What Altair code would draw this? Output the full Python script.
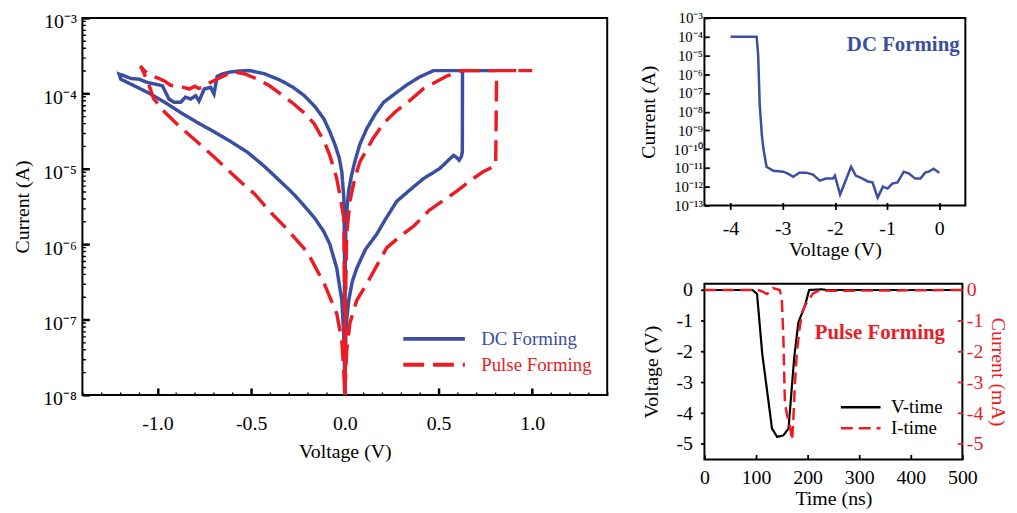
import json
import altair as alt
import pandas as pd

BLUE = "#3a4ea2"
RED = "#ec1c24"
FONT = "Liberation Serif"

# ---------------- main panel: I-V loops ----------------
dc_v = [0.000, 0.003, 0.005, 0.012, 0.021, 0.040, 0.064, 0.110, 0.170, 0.220, 0.277, 0.350, 0.420, 0.505,
        0.560, 0.580, 0.595, 0.610, 0.622, 0.627, 0.628, 0.700, 0.800, 0.700, 0.600, 0.473, 0.400, 0.330,
        0.270, 0.207, 0.160, 0.117, 0.080, 0.053, 0.035, 0.020, 0.007, 0.003, 0.001, 0.000,
        -0.001, -0.002, -0.005, -0.016, -0.030, -0.053, -0.080, -0.112, -0.160, -0.218, -0.280, -0.346,
        -0.430, -0.505, -0.560, -0.610, -0.650, -0.681, -0.690, -0.698, -0.716, -0.750, -0.778, -0.796,
        -0.823, -0.850, -0.876, -0.911, -0.938, -0.956, -0.973, -1.009, -1.053, -1.097, -1.140, -1.186,
        -1.204, -1.195, -1.140, -1.053, -0.960, -0.878, -0.787, -0.698, -0.610, -0.520, -0.430, -0.344,
        -0.280, -0.220, -0.160, -0.113, -0.080, -0.043, -0.016, -0.006, -0.002, 0.000]
dc_i = [1.0e-8, 3.0e-8, 6.6e-8, 1.1e-7, 1.8e-7, 3.2e-7, 4.8e-7, 8.5e-7, 1.35e-6, 2.2e-6, 3.7e-6, 5.3e-6, 7.4e-6, 1.0e-5,
        1.35e-5, 1.5e-5, 1.42e-5, 1.3e-5, 1.45e-5, 1.66e-5, 2.0e-4, 2.0e-4, 2.0e-4, 2.0e-4, 2.0e-4, 2.0e-4, 1.65e-4, 1.29e-4,
        1.0e-4, 7.6e-5, 5.2e-5, 3.4e-5, 2.1e-5, 1.23e-5, 8.0e-6, 5.0e-6, 2.2e-6, 8.0e-7, 1.0e-7, 1.0e-8,
        1.5e-7, 1.2e-6, 4.0e-6, 9.1e-6, 1.4e-5, 2.1e-5, 3.1e-5, 4.6e-5, 6.7e-5, 9.4e-5, 1.22e-4, 1.5e-4,
        1.82e-4, 2.0e-4, 1.98e-4, 1.92e-4, 1.82e-4, 1.68e-4, 1.26e-4, 9.8e-5, 1.2e-4, 1.14e-4, 7.9e-5, 9.3e-5,
        8.4e-5, 8.9e-5, 7.6e-5, 7.6e-5, 8.4e-5, 1.03e-4, 1.26e-4, 1.32e-4, 1.39e-4, 1.54e-4, 1.57e-4, 1.74e-4,
        1.8e-4, 1.54e-4, 1.32e-4, 1.03e-4, 7.6e-5, 5.6e-5, 4.1e-5, 3.1e-5, 2.3e-5, 1.66e-5, 1.08e-5, 6.8e-6,
        4.8e-6, 3.3e-6, 2.2e-6, 1.48e-6, 1.0e-6, 4.8e-7, 1.8e-7, 6.6e-8, 2.5e-8, 1.0e-8]

pulse_v = [0.000, 0.005, 0.010, 0.027, 0.064, 0.133, 0.223, 0.300, 0.370, 0.450, 0.505, 0.596, 0.684, 0.738,
           0.770, 0.805, 0.810, 0.900, 1.000, 0.900, 0.800, 0.700, 0.620, 0.550, 0.505, 0.420, 0.346, 0.270,
           0.207, 0.150, 0.117, 0.080, 0.053, 0.027, 0.010, 0.004, 0.002,
           -0.002, -0.005, -0.027, -0.043, -0.080, -0.110, -0.165, -0.220, -0.280, -0.330, -0.400, -0.468,
           -0.530, -0.580, -0.610, -0.640, -0.680, -0.720, -0.750, -0.780, -0.800, -0.830, -0.860, -0.900,
           -0.930, -0.960, -1.000, -1.040, -1.070, -1.090,
           -1.070, -1.050, -1.020, -0.960, -0.890, -0.790, -0.700, -0.640, -0.550, -0.480, -0.400, -0.310,
           -0.200, -0.110, -0.043, -0.016, -0.005, 0.000]
pulse_i = [1.0e-8, 2.0e-8, 3.9e-8, 8.9e-8, 1.8e-7, 3.5e-7, 8.9e-7, 1.3e-6, 1.75e-6, 2.8e-6, 3.5e-6, 5.0e-6, 7.4e-6, 9.1e-6,
           1.0e-5, 1.12e-5, 2.0e-4, 2.0e-4, 2.0e-4, 2.0e-4, 2.0e-4, 2.0e-4, 2.0e-4, 1.72e-4, 1.5e-4, 1.15e-4, 8.0e-5, 5.7e-5,
           4.0e-5, 2.5e-5, 1.8e-5, 1.23e-5, 7.4e-6, 3.7e-6, 1.35e-6, 2.0e-7, 1.0e-8,
           3.0e-7, 2.2e-6, 4.6e-6, 7.4e-6, 1.5e-5, 2.3e-5, 4.0e-5, 5.6e-5, 7.5e-5, 9.3e-5, 1.25e-4, 1.55e-4,
           1.8e-4, 1.9e-4, 1.9e-4, 1.73e-4, 1.55e-4, 1.38e-4, 1.22e-4, 1.16e-4, 1.24e-4, 1.14e-4, 1.2e-4, 1.24e-4,
           1.28e-4, 1.45e-4, 1.6e-4, 1.75e-4, 2.0e-4, 2.3e-4,
           1.8e-4, 1.4e-4, 8.5e-5, 5.6e-5, 3.8e-5, 2.3e-5, 1.45e-5, 1.05e-5, 6.5e-6, 4.6e-6, 2.7e-6, 1.6e-6,
           7.8e-7, 3.0e-7, 1.2e-7, 5.2e-8, 2.0e-8, 1.0e-8]

main_series = ["DC Forming", "Pulse Forming"]
main_x_labels = ["-1.0", "-0.5", "0.0", "0.5", "1.0"]
main_y_labels = ["10⁻³", "10⁻⁴", "10⁻⁵", "10⁻⁶", "10⁻⁷", "10⁻⁸"]
main_x_ticks = [round(-1.4 + 0.1 * k, 1) for k in range(29)]
main_y_ticks = [m * 10.0 ** e for e in range(-8, -3) for m in range(1, 10)] + [1e-3]

# ---------------- top-right: DC forming ----------------
dcf_v = [-4.00, -3.50, -3.47, -3.44, -3.40, -3.37, -3.31, -3.18, -2.99, -2.90, -2.80, -2.68, -2.55, -2.42,
         -2.29, -2.17, -2.04, -2.00, -1.90, -1.69, -1.60, -1.47, -1.37, -1.28, -1.18, -1.08, -0.99, -0.90,
         -0.80, -0.68, -0.58, -0.46, -0.36, -0.27, -0.20, -0.11, 0.00]
dcf_i = [1.0e-4, 1.0e-4, 1.0e-5, 2.2e-8, 5.8e-10, 1.05e-10, 1.15e-11, 7.1e-12, 6.3e-12, 5.0e-12, 3.4e-12, 5.6e-12,
         5.6e-12, 4.4e-12, 2.1e-12, 2.7e-12, 2.7e-12, 3.9e-12, 3.8e-13, 1.15e-11, 3.9e-12, 2.7e-12, 1.9e-12,
         1.7e-12, 2.6e-13, 1.0e-12, 7.9e-13, 1.45e-12, 1.7e-12, 6.3e-12, 5.0e-12, 2.7e-12, 2.7e-12, 5.6e-12,
         6.3e-12, 9.1e-12, 5.6e-12]
dcf_x_labels = ["-4", "-3", "-2", "-1", "0"]
dcf_x_ticks = [-4, -3, -2, -1, 0]
dcf_y_labels = ["10⁻³", "10⁻⁴", "10⁻⁵", "10⁻⁶", "10⁻⁷", "10⁻⁸", "10⁻⁹", "10⁻¹⁰", "10⁻¹¹", "10⁻¹²", "10⁻¹³"]
dcf_y_ticks = [10.0 ** -e for e in range(3, 14)]

# ---------------- bottom-right: pulse forming ----------------
vt_t = [0, 93, 102, 112, 131, 141, 153, 163, 174, 182, 195, 203, 228, 236, 500]
vt_v = [0.0, 0.0, -0.13, -2.06, -4.50, -4.77, -4.72, -4.50, -2.20, -1.06, -0.50, 0.0, 0.02, 0.0, 0.0]
it_t = [0, 104, 112, 121, 128, 133, 146, 150, 153, 156, 162, 166, 170, 172, 175, 179, 184, 189, 195, 201, 210, 220, 500]
it_i = [0.0, 0.0, -0.05, -0.13, -0.05, 0.06, 0.0, -0.30, -1.55, -3.68, -4.20, -4.45, -4.87, -4.32, -3.20,
        -2.06, -1.30, -0.77, -0.50, -0.35, -0.12, -0.03, 0.0]
pulse_series = ["V-time", "I-time"]
pulse_y_labels = ["0", "-1", "-2", "-3", "-4", "-5"]
pulse_y_ticks = [0, -1, -2, -3, -4, -5]
time_ticks = [0, 100, 200, 300, 400, 500]


def arr(lst):
    return json.dumps(lst, ensure_ascii=False)


# a horizontal line symbol that is three times longer than its nominal size
LONG_LINE = "M-3,0L3,0"

# ---------------- main chart ----------------
main_df = pd.DataFrame({
    "V": dc_v + pulse_v,
    "I": dc_i + pulse_i,
    "series": [main_series[0]] * len(dc_v) + [main_series[1]] * len(pulse_v),
    "idx": list(range(len(dc_v))) + list(range(len(pulse_v))),
})

major_x = "abs(datum.value*2 - round(datum.value*2)) < 0.001"
major_y = "abs(log(datum.value)/LN10 - round(log(datum.value)/LN10)) < 0.001"

main_x_axis = alt.Axis(
    values=main_x_ticks,
    labelExpr=f"{major_x} ? {arr(main_x_labels)}[round(datum.value*2)+2] : ''",
    ticks=True, offset=-7, tickSize=7, domain=False, grid=False,
    tickDash={"condition": {"test": major_x, "value": [7, 0]}, "value": [0, 4, 3, 0]},
    tickWidth={"condition": {"test": major_x, "value": 2.5}, "value": 1.4},
    labelFontSize=20, labelPadding=19, labelOverlap=False, labelFlush=False,
    title="Voltage (V)", titleFontSize=20, titlePadding=8,
)
main_y_axis = alt.Axis(
    values=main_y_ticks,
    labelExpr=f"{major_y} ? {arr(main_y_labels)}[round(-log(datum.value)/LN10) - 3] : ''",
    ticks=True, offset=-7, tickSize=7, domain=False, grid=False,
    tickDash={"condition": {"test": major_y, "value": [7, 0]}, "value": [0, 4, 3, 0]},
    tickWidth={"condition": {"test": major_y, "value": 2.5}, "value": 1.4},
    labelFontSize=20, labelPadding=6, labelOffset=4, labelOverlap=False,
    title="Current (A)", titleFontSize=20, titlePadding=10,
)
main_legend = alt.Legend(
    title=None, orient="none", legendX=342, legendY=311, padding=0,
    symbolType=LONG_LINE, symbolSize=428, symbolStrokeWidth=4,
    labelFontSize=19, labelOffset=35, rowPadding=3, labelFont=FONT,
    labelColor=alt.ExprRef(f"datum.label === 'DC Forming' ? '{BLUE}' : '{RED}'"),
)

main = alt.Chart(main_df).mark_line(strokeWidth=3.5).encode(
    x=alt.X("V:Q", scale=alt.Scale(domain=[-1.4, 1.4], nice=False), axis=main_x_axis),
    y=alt.Y("I:Q", scale=alt.Scale(type="log", domain=[1e-8, 1e-3], nice=False), axis=main_y_axis),
    color=alt.Color("series:N", scale=alt.Scale(domain=main_series, range=[BLUE, RED]), legend=main_legend),
    strokeDash=alt.StrokeDash("series:N", scale=alt.Scale(domain=main_series, range=[[1, 0], [21, 9]]),
                              legend=main_legend),
    order=alt.Order("idx:Q"),
).properties(width=529, height=380)

# ---------------- top-right chart ----------------
dcf_df = pd.DataFrame({"V": dcf_v, "I": dcf_i, "idx": list(range(len(dcf_v)))})
dcf_x_scale = alt.Scale(domain=[-4.5, 0.5], nice=False)
dcf_y_scale = alt.Scale(type="log", domain=[1e-13, 1e-3], nice=False)
dcf_x_axis = alt.Axis(
    values=dcf_x_ticks, labelExpr=f"{arr(dcf_x_labels)}[round(datum.value)+4]",
    ticks=True, offset=-3, tickSize=7, tickWidth=1.8, domain=False, grid=False,
    labelFontSize=20, labelPadding=9, labelFlush=False, labelOverlap=False,
    title="Voltage (V)", titleFontSize=20, titlePadding=1)
dcf_y_axis = alt.Axis(
    values=dcf_y_ticks, labelExpr=f"{arr(dcf_y_labels)}[round(-log(datum.value)/LN10) - 3]",
    ticks=True, offset=-5, tickSize=5, tickWidth=1.8, domain=False, grid=False,
    labelFontSize=15, labelPadding=2, labelOverlap=False,
    title="Current (A)", titleFontSize=20, titlePadding=15)

dcf_line = alt.Chart(dcf_df).mark_line(strokeWidth=2.5, color=BLUE).encode(
    x=alt.X("V:Q", scale=dcf_x_scale, axis=dcf_x_axis),
    y=alt.Y("I:Q", scale=dcf_y_scale, axis=dcf_y_axis),
    order=alt.Order("idx:Q"))
dcf_text = alt.Chart(pd.DataFrame({"t": ["DC Forming"]})).mark_text(
    font=FONT, fontSize=21, fontWeight="bold", color=BLUE, align="center", baseline="middle"
).encode(x=alt.XDatum(-0.69, scale=dcf_x_scale, axis=dcf_x_axis),
         y=alt.YDatum(3.7e-5, scale=dcf_y_scale, axis=dcf_y_axis), text="t:N")
top_right = alt.layer(dcf_line, dcf_text).properties(width=263, height=189)

# ---------------- bottom-right chart ----------------
v_df = pd.DataFrame({"t": vt_t, "val": vt_v, "series": pulse_series[0], "idx": list(range(len(vt_t)))})
i_df = pd.DataFrame({"t": it_t, "val": it_i, "series": pulse_series[1], "idx": list(range(len(it_t)))})

time_scale = alt.Scale(domain=[0, 500], nice=False)
time_axis = alt.Axis(values=time_ticks, ticks=True, offset=-5, tickSize=5, tickWidth=1.8, domain=False,
                     grid=False, labelFontSize=20, labelPadding=8, labelFlush=False, labelOverlap=False,
                     title="Time (ns)", titleFontSize=20, titlePadding=1)
y_scale = alt.Scale(domain=[-5.5, 0.2], nice=False)
left_axis = alt.Axis(
    values=pulse_y_ticks, labelExpr=f"{arr(pulse_y_labels)}[round(-datum.value)]",
    ticks=True, tickSize=4, tickWidth=1.8, domain=False, grid=False, orient="left", labelOverlap=False,
    labelFontSize=20, labelPadding=8, title="Voltage (V)", titleFontSize=20, titlePadding=15)
right_axis = alt.Axis(
    values=pulse_y_ticks, labelExpr=f"{arr(pulse_y_labels)}[round(-datum.value)]",
    ticks=True, offset=-5, tickSize=5, tickWidth=1.8, tickColor=RED, domain=False, grid=False,
    orient="right", labelFontSize=20, labelPadding=4, labelColor=RED, labelOverlap=False,
    title="Current (mA)", titleFontSize=20, titlePadding=5, titleColor=RED)

pulse_legend = alt.Legend(
    title=None, orient="none", legendX=148, legendY=115, padding=0,
    symbolType=LONG_LINE, symbolSize=178, symbolStrokeWidth=2.5,
    labelFontSize=19, labelOffset=21, rowPadding=1, labelFont=FONT, labelColor="black",
)
p_color = alt.Color("series:N", scale=alt.Scale(domain=pulse_series, range=["black", RED]), legend=pulse_legend)
p_dash = alt.StrokeDash("series:N", scale=alt.Scale(domain=pulse_series, range=[[1, 0], [12, 6]]),
                        legend=pulse_legend)

v_line = alt.Chart(v_df).mark_line(strokeWidth=2.2).encode(
    x=alt.X("t:Q", scale=time_scale, axis=time_axis),
    y=alt.Y("val:Q", scale=y_scale, axis=left_axis),
    color=p_color, strokeDash=p_dash, order=alt.Order("idx:Q"))
pulse_text = alt.Chart(pd.DataFrame({"t": ["Pulse Forming"]})).mark_text(
    font=FONT, fontSize=21, fontWeight="bold", color=RED, align="center", baseline="middle"
).encode(x=alt.XDatum(340, scale=time_scale, axis=time_axis),
         y=alt.YDatum(-1.39, scale=y_scale, axis=left_axis), text="t:N")
i_line = alt.Chart(i_df).mark_line(strokeWidth=2.5).encode(
    x=alt.X("t:Q", scale=time_scale, axis=time_axis),
    y=alt.Y("val:Q", scale=y_scale, axis=right_axis),
    color=p_color, strokeDash=p_dash, order=alt.Order("idx:Q"))

bottom_right = alt.layer(alt.layer(v_line, pulse_text), i_line).resolve_scale(y="independent").properties(
    width=260, height=177)

right = alt.vconcat(top_right, bottom_right, spacing=79, bounds="flush").resolve_legend(
    color="independent", strokeDash="independent")

chart = alt.hconcat(main, right, spacing=98, bounds="flush").resolve_scale(
    color="independent", strokeDash="independent"
).resolve_legend(color="independent", strokeDash="independent").properties(
    padding={"left": 4, "top": 0, "right": 0, "bottom": 0}
).configure(font=FONT).configure_view(stroke="black", strokeWidth=2).configure_axis(
    labelFont=FONT, titleFont=FONT, labelColor="black", titleColor="black", titleFontWeight="normal",
    tickColor="black", ticks=True, tickOpacity=1
).configure_legend(labelFont=FONT)

chart.save("out.html", embed_options={"renderer": "svg", "actions": False})
